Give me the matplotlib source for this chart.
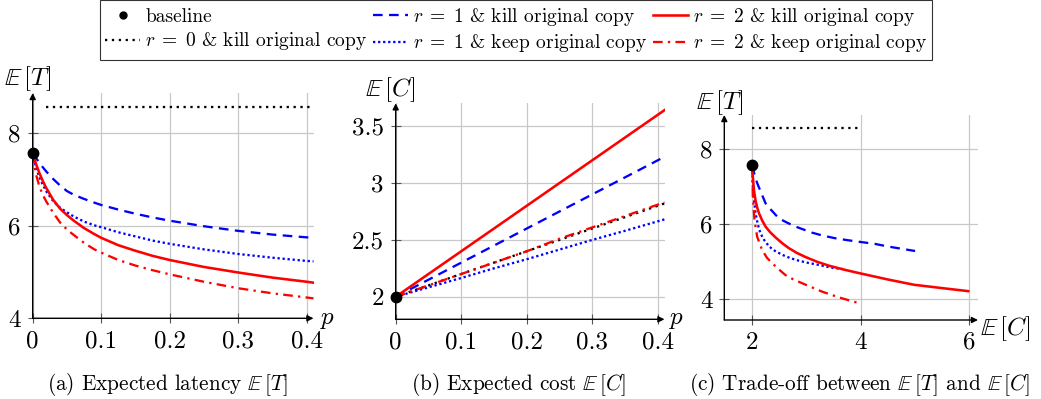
import matplotlib
matplotlib.use("Agg")
import matplotlib.pyplot as plt
from matplotlib.lines import Line2D

plt.rcParams['font.family'] = ['cmr10', 'DejaVu Serif']
plt.rcParams['mathtext.fontset'] = 'cm'
plt.rcParams['axes.formatter.use_mathtext'] = True

# ---------------- data ----------------
# Panel (a): expected latency vs p
p_a = [0, 0.0025, 0.005, 0.01, 0.015, 0.02, 0.03, 0.04, 0.05, 0.06, 0.075, 0.09, 0.1,
       0.125, 0.15, 0.175, 0.2, 0.25, 0.3, 0.35, 0.4, 0.41]
T_r1_kill = [7.57, 7.52, 7.46, 7.36, 7.26, 7.17, 7.01, 6.87, 6.75, 6.67, 6.58, 6.50, 6.45,
             6.35, 6.26, 6.18, 6.11, 5.99, 5.89, 5.81, 5.75, 5.74]
T_r1_keep = [7.57, 7.40, 7.25, 7.04, 6.88, 6.74, 6.53, 6.39, 6.29, 6.20, 6.09, 6.01, 5.97,
             5.86, 5.77, 5.68, 5.61, 5.49, 5.39, 5.31, 5.24, 5.23]
T_r2_kill = [7.57, 7.45, 7.33, 7.13, 6.96, 6.81, 6.56, 6.37, 6.23, 6.11, 5.95, 5.82, 5.74,
             5.58, 5.46, 5.35, 5.26, 5.11, 4.99, 4.88, 4.79, 4.77]
T_r2_keep = [7.57, 7.30, 7.10, 6.84, 6.66, 6.52, 6.28, 6.07, 5.92, 5.80, 5.63, 5.49, 5.42,
             5.26, 5.14, 5.04, 4.95, 4.79, 4.65, 4.54, 4.45, 4.43]
p_r0 = [0.02, 0.405]
T_r0 = [8.57, 8.57]
baseline_T = 7.57

# Panel (b): expected cost vs p
p_b = [0, 0.05, 0.1, 0.15, 0.2, 0.25, 0.3, 0.35, 0.41]
C_r0 = [2.0, 2.1, 2.2, 2.3, 2.4, 2.5, 2.6, 2.7, 2.82]
C_r1_kill = [2.0, 2.15, 2.3, 2.45, 2.6, 2.75, 2.9, 3.05, 3.23]
C_r1_keep = [2.0, 2.083, 2.165, 2.25, 2.33, 2.415, 2.5, 2.58, 2.68]
C_r2_kill = [2.0, 2.2, 2.4, 2.6, 2.8, 3.0, 3.2, 3.4, 3.64]
C_r2_keep = [2.0, 2.1, 2.2, 2.3, 2.4, 2.51, 2.61, 2.71, 2.83]
baseline_C = 2.0

# Panel (c): trade-off (cost, latency) pairs
tc_r0_C = [2.0, 4.0]
tc_r0_T = [8.57, 8.57]
tc_r1_kill_C = [2.0, 2.03, 2.06, 2.09, 2.15, 2.245, 2.35, 2.49, 2.65, 2.8, 2.95, 3.1, 3.3,
                3.53, 3.75, 4.0, 4.26, 4.5, 4.75, 5.0]
tc_r1_kill_T = [7.57, 7.38, 7.22, 7.09, 6.88, 6.55, 6.37, 6.15, 6.03, 5.93, 5.85, 5.77, 5.69,
                5.62, 5.57, 5.52, 5.47, 5.40, 5.34, 5.28]
tc_r1_keep_C = [2.0, 2.01, 2.03, 2.06, 2.1, 2.15, 2.22, 2.31, 2.42, 2.55, 2.7, 2.86, 3.04,
                3.22, 3.38, 3.53, 3.67]
tc_r1_keep_T = [7.57, 7.0, 6.65, 6.29, 6.0, 5.75, 5.57, 5.40, 5.28, 5.18, 5.09, 5.02, 4.96,
                4.91, 4.86, 4.82, 4.80]
tc_r2_kill_C = [2.0, 2.01, 2.03, 2.06, 2.09, 2.12, 2.18, 2.245, 2.33, 2.43, 2.55, 2.67, 2.82,
                2.98, 3.2, 3.41, 3.7, 4.0, 4.5, 4.98, 5.5, 5.98]
tc_r2_kill_T = [7.57, 7.25, 6.91, 6.62, 6.44, 6.30, 6.10, 5.93, 5.78, 5.64, 5.49, 5.36, 5.23,
                5.12, 4.99, 4.89, 4.78, 4.68, 4.52, 4.38, 4.29, 4.21]
tc_r2_keep_C = [2.0, 2.01, 2.04, 2.09, 2.18, 2.27, 2.37, 2.49, 2.61, 2.76, 2.92, 3.1, 3.28,
                3.46, 3.65, 3.82, 3.99]
tc_r2_keep_T = [7.57, 6.73, 6.11, 5.66, 5.31, 5.10, 4.95, 4.79, 4.64, 4.52, 4.42, 4.31, 4.20,
                4.11, 4.02, 3.95, 3.88]

# ---------------- styles ----------------
BLUE = (0, 0, 1)
RED = (1, 0, 0)
LW = 1.65
sty = {
    'r0': dict(color='k', lw=LW, linestyle=(0, (1, 2.0))),
    'r1_kill': dict(color=BLUE, lw=LW, linestyle=(0, (4.2, 2.8))),
    'r1_keep': dict(color=BLUE, lw=LW, linestyle=(0, (1, 1.2))),
    'r2_kill': dict(color=RED, lw=LW + 0.2, linestyle='-'),
    'r2_keep': dict(color=RED, lw=LW, linestyle=(0, (4.2, 2.3, 1, 2.3))),
}
base_sty = dict(marker='o', color='k', markersize=7.5, linestyle='none', zorder=10, clip_on=False)

TICK_FS = 18
CAP_FS = 15.3

W, H = 1041, 399
fig = plt.figure(figsize=(W / 100, H / 100), dpi=100)


def px_axes(x0, x1, y_top, y_bot):
    return fig.add_axes([x0 / W, 1 - y_bot / H, (x1 - x0) / W, (y_bot - y_top) / H])


def style_axes(ax):
    for s in ax.spines.values():
        s.set_visible(False)
    ax.grid(True, color='#c8c8c8', lw=0.9)
    ax.set_axisbelow(True)
    ax.tick_params(direction='inout', length=7, width=0.8, color='#555555',
                   labelsize=TICK_FS, pad=5)
    ax.annotate('', xy=(1.0, 0), xytext=(0, 0), xycoords='axes fraction',
                arrowprops=dict(arrowstyle='-|>', lw=1.0, color='k', mutation_scale=9,
                                shrinkA=0, shrinkB=0))
    ax.annotate('', xy=(0, 1.0), xytext=(0, 0), xycoords='axes fraction',
                arrowprops=dict(arrowstyle='-|>', lw=1.0, color='k', mutation_scale=9,
                                shrinkA=0, shrinkB=0))


def ftext(x, y, s, size=TICK_FS, ha='center'):
    fig.text(x / W, 1 - y / H, s, ha=ha, va='center', fontsize=size)


ET = r'$\mathbb{E}\,[T]$'
EC = r'$\mathbb{E}\,[C]$'

# ---- panel (a) ----
axa = px_axes(32.7, 313.5, 93, 318.3)
style_axes(axa)
axa.set_xlim(0, 0.41)
axa.set_ylim(4, 8.87)
axa.plot(p_r0, T_r0, **sty['r0'])
axa.plot(p_a, T_r1_kill, **sty['r1_kill'])
axa.plot(p_a, T_r1_keep, **sty['r1_keep'])
axa.plot(p_a, T_r2_kill, **sty['r2_kill'])
axa.plot(p_a, T_r2_keep, **sty['r2_keep'])
axa.plot([0], [baseline_T], **base_sty)
axa.set_xticks([0, 0.1, 0.2, 0.3, 0.4], ['0', '0.1', '0.2', '0.3', '0.4'])
axa.set_yticks([4, 6, 8], ['4', '6', '8'])
ftext(28, 79, ET)
ftext(328, 320, r'$p$')
ftext(168, 384, r'(a) Expected latency $\mathbb{E}\,[T]$', size=CAP_FS)

# ---- panel (b) ----
axb = px_axes(395.7, 664.5, 103.3, 319.3)
style_axes(axb)
axb.set_xlim(0, 0.41)
axb.set_ylim(1.802, 3.70)
axb.plot(p_b, C_r0, **sty['r0'])
axb.plot(p_b, C_r1_kill, **sty['r1_kill'])
axb.plot(p_b, C_r1_keep, **sty['r1_keep'])
axb.plot(p_b, C_r2_kill, **sty['r2_kill'])
axb.plot(p_b, C_r2_keep, **sty['r2_keep'])
axb.plot([0], [baseline_C], **base_sty)
axb.set_xticks([0, 0.1, 0.2, 0.3, 0.4], ['0', '0.1', '0.2', '0.3', '0.4'])
axb.set_yticks([2, 2.5, 3, 3.5], ['2', '2.5', '3', '3.5'])
ftext(390, 90, EC)
ftext(677, 320, r'$p$')
ftext(519, 384, r'(b) Expected cost $\mathbb{E}\,[C]$', size=CAP_FS)

# ---- panel (c) ----
axc = px_axes(724.3, 978, 115, 320)
style_axes(axc)
axc.set_xlim(1.484, 6.16)
axc.set_ylim(3.44, 8.907)
axc.plot(tc_r0_C, tc_r0_T, **sty['r0'])
axc.plot(tc_r1_kill_C, tc_r1_kill_T, **sty['r1_kill'])
axc.plot(tc_r1_keep_C, tc_r1_keep_T, **sty['r1_keep'])
axc.plot(tc_r2_kill_C, tc_r2_kill_T, **sty['r2_kill'])
axc.plot(tc_r2_keep_C, tc_r2_keep_T, **sty['r2_keep'])
axc.plot([2], [baseline_T], **base_sty)
axc.set_xticks([2, 4, 6], ['2', '4', '6'])
axc.set_yticks([4, 6, 8], ['4', '6', '8'])
ftext(720, 103, ET)
ftext(1005, 329, EC)
ftext(860, 384, r'(c) Trade-off between $\mathbb{E}\,[T]$ and $\mathbb{E}\,[C]$', size=CAP_FS)

# ---- legend ----
labels = ['baseline', r'$r\;=\;0$ & kill original copy',
          r'$r\;=\;1$ & kill original copy', r'$r\;=\;1$ & keep original copy',
          r'$r\;=\;2$ & kill original copy', r'$r\;=\;2$ & keep original copy']
handles = [Line2D([], [], marker='o', color='k', markersize=5, linestyle='none'),
           Line2D([], [], **sty['r0']),
           Line2D([], [], **sty['r1_kill']),
           Line2D([], [], **sty['r1_keep']),
           Line2D([], [], **sty['r2_kill']),
           Line2D([], [], **sty['r2_keep'])]
leg = fig.legend(handles, labels, ncol=3, loc='center', bbox_to_anchor=(516 / W, 1 - 30 / H),
                 fontsize=14, frameon=True, fancybox=False, edgecolor='k',
                 handlelength=1.8, handletextpad=0.25, columnspacing=0.3,
                 borderpad=0.3, labelspacing=0.25)
leg.get_frame().set_linewidth(0.8)

fig.savefig('out.png', dpi=100)
